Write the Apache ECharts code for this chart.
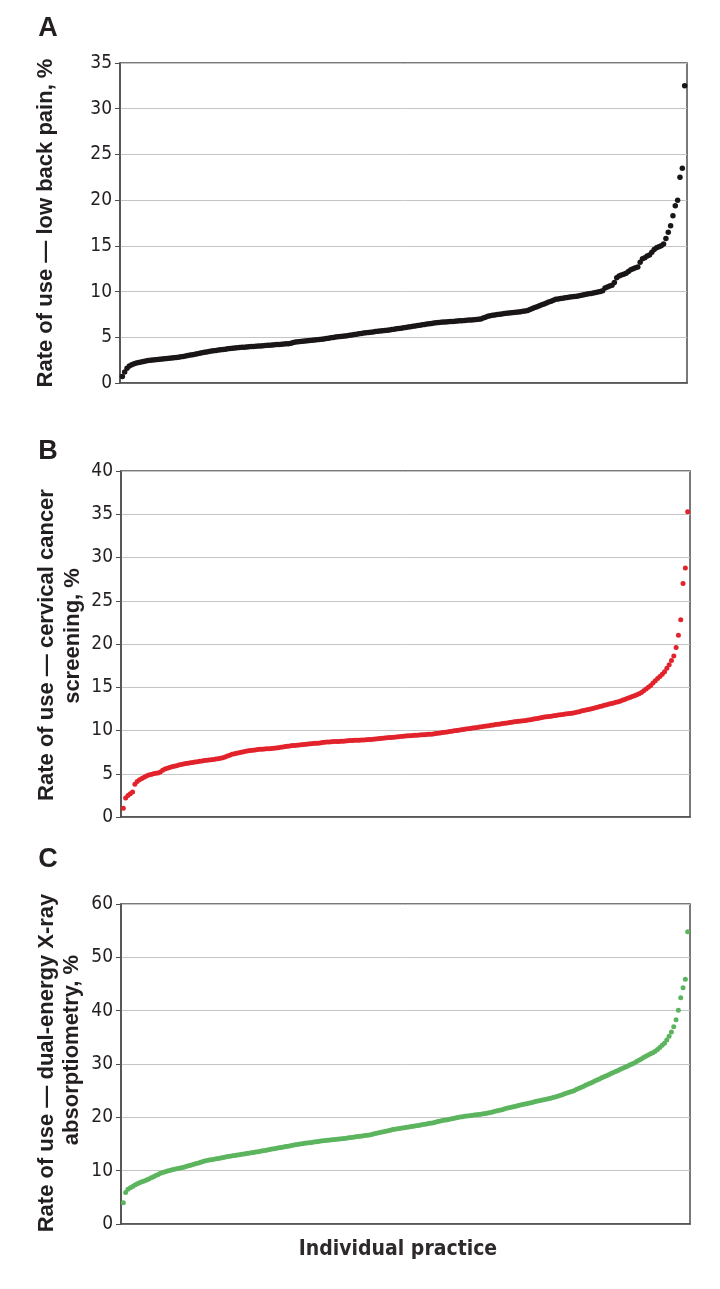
<!DOCTYPE html>
<html>
<head>
<meta charset="utf-8">
<title>Rate of use by individual practice</title>
<script src="https://cdn.jsdelivr.net/npm/echarts@6.0.0/dist/echarts.min.js"></script>
<style>
  html, body { margin: 0; padding: 0; background: #fff; }
  #main { width: 720px; height: 1289px; }
</style>
</head>
<body>
<div id="main"></div>
<script>
// A: low back pain imaging, practices sorted by rate (%)
var lowBackPain = [
  0.7, 1.2, 1.6, 1.85, 2.0, 2.1, 2.2, 2.25, 2.3, 2.35,
  2.4, 2.45, 2.5, 2.52, 2.55, 2.58, 2.6, 2.62, 2.65, 2.68,
  2.7, 2.73, 2.76, 2.8, 2.83, 2.87, 2.9, 2.95, 3.0, 3.05,
  3.1, 3.15, 3.2, 3.25, 3.3, 3.35, 3.4, 3.45, 3.5, 3.53,
  3.56, 3.6, 3.63, 3.67, 3.7, 3.75, 3.78, 3.8, 3.83, 3.86,
  3.88, 3.9, 3.92, 3.94, 3.96, 3.98, 4.0, 4.02, 4.04, 4.06,
  4.08, 4.1, 4.12, 4.14, 4.16, 4.18, 4.2, 4.22, 4.24, 4.26,
  4.28, 4.3, 4.36, 4.42, 4.48, 4.52, 4.55, 4.58, 4.6, 4.62,
  4.65, 4.67, 4.7, 4.72, 4.75, 4.78, 4.82, 4.86, 4.9, 4.94,
  4.98, 5.02, 5.05, 5.08, 5.1, 5.14, 5.18, 5.22, 5.26, 5.3,
  5.34, 5.38, 5.42, 5.46, 5.5, 5.53, 5.56, 5.59, 5.62, 5.65,
  5.68, 5.71, 5.74, 5.77, 5.8, 5.84, 5.88, 5.92, 5.96, 6.0,
  6.04, 6.08, 6.12, 6.16, 6.2, 6.24, 6.28, 6.32, 6.36, 6.4,
  6.44, 6.48, 6.52, 6.56, 6.6, 6.62, 6.64, 6.66, 6.68, 6.7,
  6.72, 6.74, 6.76, 6.78, 6.8, 6.82, 6.84, 6.86, 6.88, 6.9,
  6.92, 6.94, 6.97, 7.0, 7.1, 7.2, 7.3, 7.35, 7.4, 7.44,
  7.48, 7.52, 7.56, 7.6, 7.62, 7.65, 7.68, 7.71, 7.74, 7.77,
  7.8, 7.84, 7.88, 7.92, 8.05, 8.15, 8.25, 8.35, 8.45, 8.55,
  8.65, 8.75, 8.85, 8.95, 9.05, 9.15, 9.2, 9.24, 9.28, 9.32,
  9.36, 9.4, 9.44, 9.47, 9.5, 9.55, 9.6, 9.65, 9.7, 9.75,
  9.8, 9.85, 9.9, 9.95, 10.0, 10.1, 10.4, 10.5, 10.6, 10.7,
  11.0, 11.5, 11.7, 11.8, 11.9, 12.0, 12.2, 12.4, 12.5, 12.6,
  12.7, 13.2, 13.6, 13.7, 13.9, 14.0, 14.3, 14.6, 14.8, 14.9,
  15.0, 15.2, 15.8, 16.5, 17.2, 18.3, 19.4, 20.0, 22.5, 23.5,
  32.5
];

// B: cervical cancer screening
var cervicalScreening = [
  1.0, 2.2, 2.5, 2.7, 2.9, 3.8, 4.1, 4.3, 4.45, 4.6,
  4.75, 4.85, 4.92, 5.0, 5.05, 5.1, 5.2, 5.4, 5.55, 5.65,
  5.72, 5.8, 5.87, 5.93, 6.0, 6.07, 6.13, 6.18, 6.22, 6.26,
  6.3, 6.35, 6.4, 6.44, 6.48, 6.52, 6.55, 6.58, 6.62, 6.66,
  6.7, 6.72, 6.78, 6.86, 6.95, 7.05, 7.15, 7.25, 7.32, 7.38,
  7.43, 7.5, 7.55, 7.6, 7.65, 7.7, 7.73, 7.76, 7.8, 7.82,
  7.84, 7.86, 7.88, 7.9, 7.92, 7.94, 7.98, 8.02, 8.06, 8.1,
  8.14, 8.18, 8.22, 8.26, 8.28, 8.3, 8.33, 8.36, 8.39, 8.42,
  8.45, 8.48, 8.5, 8.52, 8.54, 8.56, 8.6, 8.63, 8.66, 8.68,
  8.7, 8.72, 8.73, 8.74, 8.75, 8.77, 8.79, 8.81, 8.83, 8.85,
  8.86, 8.87, 8.88, 8.89, 8.9, 8.92, 8.95, 8.97, 9.0, 9.02,
  9.05, 9.08, 9.1, 9.12, 9.15, 9.18, 9.2, 9.23, 9.26, 9.28,
  9.31, 9.34, 9.36, 9.38, 9.4, 9.42, 9.44, 9.46, 9.48, 9.5,
  9.52, 9.54, 9.56, 9.58, 9.6, 9.64, 9.68, 9.72, 9.76, 9.8,
  9.84, 9.88, 9.92, 9.96, 10.0, 10.04, 10.08, 10.12, 10.16, 10.2,
  10.24, 10.28, 10.32, 10.36, 10.4, 10.44, 10.48, 10.52, 10.56, 10.6,
  10.64, 10.68, 10.72, 10.76, 10.8, 10.84, 10.88, 10.92, 10.96, 11.0,
  11.03, 11.06, 11.09, 11.12, 11.15, 11.2, 11.25, 11.3, 11.35, 11.4,
  11.45, 11.5, 11.55, 11.58, 11.62, 11.66, 11.7, 11.74, 11.78, 11.82,
  11.86, 11.9, 11.94, 11.97, 12.0, 12.06, 12.12, 12.18, 12.24, 12.3,
  12.36, 12.42, 12.48, 12.55, 12.62, 12.7, 12.77, 12.84, 12.91, 12.98,
  13.05, 13.12, 13.19, 13.26, 13.33, 13.42, 13.52, 13.62, 13.72, 13.82,
  13.92, 14.02, 14.12, 14.25, 14.4, 14.6, 14.8, 15.0, 15.2, 15.5,
  15.75, 16.0, 16.25, 16.5, 16.8, 17.2, 17.6, 18.1, 18.6, 19.6,
  21.0, 22.8, 27.0, 28.8, 35.3
];

// C: dual-energy X-ray absorptiometry
var dxaScreening = [
  4.0, 5.9, 6.5, 6.8, 7.05, 7.3, 7.55, 7.72, 7.9, 8.08,
  8.25, 8.45, 8.65, 8.85, 9.1, 9.3, 9.5, 9.65, 9.8, 9.95,
  10.05, 10.15, 10.25, 10.35, 10.45, 10.55, 10.65, 10.78, 10.9, 11.02,
  11.15, 11.28, 11.4, 11.55, 11.68, 11.8, 11.9, 11.98, 12.06, 12.14,
  12.22, 12.3, 12.38, 12.46, 12.55, 12.64, 12.72,
  12.79, 12.86, 12.93, 13.0, 13.07, 13.14, 13.21, 13.28, 13.34, 13.4,
  13.48, 13.56, 13.64, 13.72, 13.8, 13.88, 13.96, 14.04, 14.12, 14.2,
  14.28, 14.36, 14.44, 14.52, 14.6, 14.68, 14.76, 14.84, 14.92, 15.0,
  15.06, 15.12, 15.18, 15.24, 15.3, 15.36, 15.42, 15.48, 15.54, 15.6,
  15.65, 15.7, 15.75, 15.8, 15.85, 15.9, 15.95, 16.0, 16.05, 16.1,
  16.16, 16.22, 16.28, 16.34, 16.4, 16.46, 16.52, 16.58, 16.64, 16.7,
  16.8, 16.9, 17.0, 17.1, 17.2, 17.3, 17.4, 17.5, 17.6, 17.7,
  17.77, 17.84, 17.91, 17.98, 18.05, 18.12, 18.19, 18.26, 18.33, 18.4,
  18.48, 18.56, 18.64, 18.72, 18.8, 18.88, 18.96, 19.05, 19.15, 19.25,
  19.34, 19.43, 19.52, 19.61, 19.7, 19.79, 19.88, 19.97, 20.05, 20.12,
  20.18, 20.24, 20.3, 20.36, 20.42, 20.48, 20.54, 20.6, 20.66, 20.72,
  20.82, 20.92, 21.02, 21.12, 21.22, 21.32, 21.42, 21.55, 21.68, 21.8,
  21.9, 22.0, 22.1, 22.2, 22.3, 22.4, 22.5, 22.6, 22.7, 22.8,
  22.9, 23.0, 23.1, 23.2, 23.3, 23.4, 23.5, 23.6, 23.7, 23.82,
  23.96, 24.1, 24.25, 24.4, 24.55, 24.7, 24.85, 25.0, 25.2, 25.4,
  25.6, 25.8, 26.0, 26.2, 26.4, 26.6, 26.8, 27.0, 27.2, 27.4,
  27.6, 27.8, 28.0, 28.2, 28.4, 28.6, 28.8, 29.0, 29.2, 29.4,
  29.6, 29.8, 30.0, 30.2, 30.45, 30.7, 30.95, 31.2, 31.45, 31.7,
  31.9, 32.1, 32.4, 32.7, 33.1, 33.5,
  33.9, 34.5, 35.2, 36.0,
  37.0, 38.3, 40.1,
  42.4, 44.3, 45.9,
  54.8
];

// y axis ranges [min, max, step]
var yRangeA = [0, 35, 5];
var yRangeB = [0, 40, 5];
var yRangeC = [0, 60, 10];

var panelLetters = ["A", "B", "C"];
var yTitleA = ["Rate of use \u2014 low back pain, %"];
var yTitleB = ["Rate of use \u2014 cervical cancer", "screening, %"];
var yTitleC = ["Rate of use \u2014 dual-energy X-ray", "absorptiometry, %"];
var xTitle = "Individual practice";

var axisColor = "#4d4d4d";
var gridColor = "#c4c4c4";
var textColor = "#231f20";
var tickFont = "'Liberation Sans Narrow', 'DejaVu Sans Condensed', Arial, sans-serif";
var boldFont = "'Liberation Sans', Arial, sans-serif";

var panels = [
  { vals: lowBackPain, range: yRangeA, color: "#1a1617", size: 5.5,
    grid: { left: 120, top: 63, width: 567, height: 320 } },
  { vals: cervicalScreening, range: yRangeB, color: "#e2232b", size: 5,
    grid: { left: 121, top: 471, width: 569, height: 346 } },
  { vals: dxaScreening, range: yRangeC, color: "#5cb55e", size: 5,
    grid: { left: 121, top: 904, width: 569, height: 320 } }
];

var grids = [], xAxes = [], yAxes = [], series = [];
panels.forEach(function (p, k) {
  grids.push({
    left: p.grid.left, top: p.grid.top, width: p.grid.width, height: p.grid.height,
    show: true, borderColor: axisColor, borderWidth: 1.5, backgroundColor: "transparent"
  });
  xAxes.push({
    gridIndex: k, type: "value", min: 0, max: p.vals.length + 1,
    axisLine: { show: true, lineStyle: { color: axisColor, width: 1.5 } },
    axisTick: { show: false }, axisLabel: { show: false }, splitLine: { show: false }
  });
  yAxes.push({
    gridIndex: k, type: "value", min: p.range[0], max: p.range[1], interval: p.range[2],
    axisLine: { show: true, lineStyle: { color: axisColor, width: 1.5 } },
    axisTick: { show: true, length: 5, lineStyle: { color: axisColor, width: 1 } },
    axisLabel: { color: textColor, fontFamily: tickFont, fontSize: 19, margin: 8 },
    splitLine: { show: true, lineStyle: { color: gridColor, width: 1 } }
  });
  series.push({
    type: "scatter", xAxisIndex: k, yAxisIndex: k,
    symbol: "circle", symbolSize: p.size,
    itemStyle: { color: p.color, opacity: 1 },
    data: p.vals.map(function (v, i) { return [i + 1, v]; }),
    animation: false
  });
});

// rotated axis titles and panel letters
function rotText(text, x, y) {
  return {
    type: "text", x: x, y: y, rotation: Math.PI / 2,
    style: { text: text, font: "bold 22px " + boldFont, fill: textColor,
             textAlign: "center", textVerticalAlign: "middle", align: "center", verticalAlign: "middle" }
  };
}
function letter(text, x, y) {
  return {
    type: "text", x: x, y: y,
    style: { text: text, font: "bold 27px " + boldFont, fill: textColor,
             textAlign: "center", textVerticalAlign: "middle", align: "center", verticalAlign: "middle" }
  };
}

var graphics = [
  letter(panelLetters[0], 48, 29),
  letter(panelLetters[1], 48, 452),
  letter(panelLetters[2], 48, 860),
  rotText(yTitleA[0], 46, 223),
  rotText(yTitleB[0], 47, 645),
  rotText(yTitleB[1], 73, 636),
  rotText(yTitleC[0], 47, 1063),
  rotText(yTitleC[1], 72, 1050),
  {
    type: "text", x: 398, y: 1250,
    style: { text: xTitle, font: "bold 21px " + tickFont, fill: "#2e2a2b",
             textAlign: "center", textVerticalAlign: "middle", align: "center", verticalAlign: "middle" }
  }
];

var chart = echarts.init(document.getElementById("main"), null, { renderer: "canvas" });
chart.setOption({
  backgroundColor: "#fff",
  animation: false,
  grid: grids,
  xAxis: xAxes,
  yAxis: yAxes,
  series: series,
  graphic: graphics
});
</script>
</body>
</html>
